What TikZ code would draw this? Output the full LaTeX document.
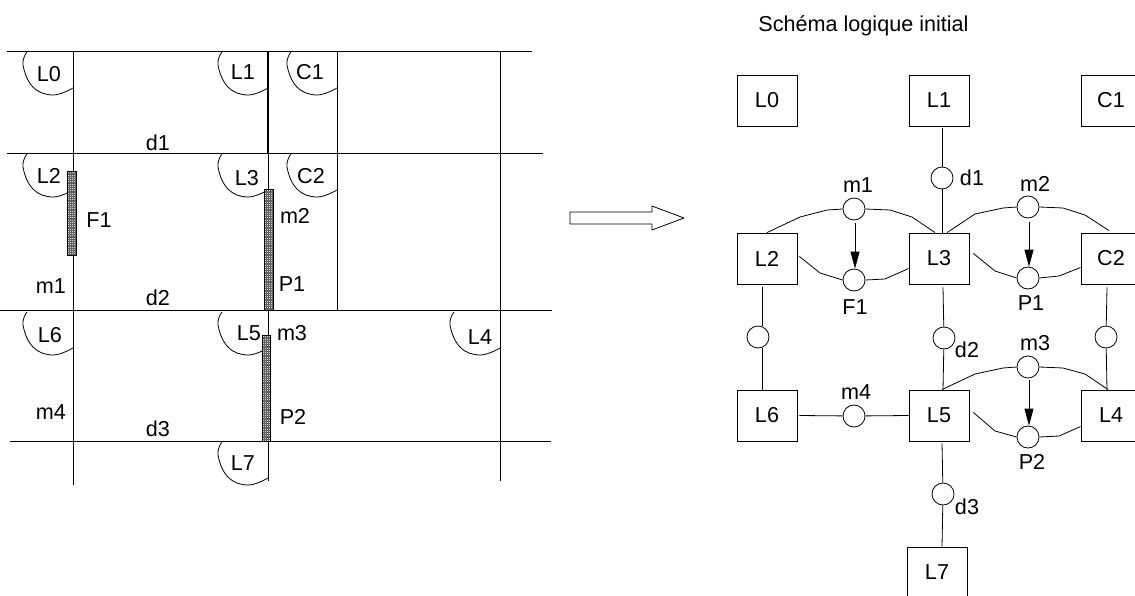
\documentclass[tikz,border=0pt]{standalone}
\usepackage{fontspec}
\setmainfont{Liberation Sans}
\usetikzlibrary{calc,arrows.meta}
\tikzset{
  wire/.style={line width=0.8pt,black,line join=round},
  lbl/.style={inner sep=0pt,font=\fontsize{21.6}{26}\selectfont,anchor=center},
  room/.style={draw,line width=0.85pt,fill=white,minimum width=60pt,minimum height=51pt,inner sep=0pt,font=\fontsize{21.6}{26}\selectfont},
  place/.style={draw,line width=0.8pt,circle,minimum size=22pt,inner sep=0pt},
  flow/.style={wire,-{Triangle[length=17pt,width=9pt]}},
  wall/.style={line width=1pt,black}
}
\newcommand{\doorarc}[2]{\draw[wire,shift={(#1,#2)}] plot[smooth,tension=0.7] coordinates {(-46,1)(-50,14)(-40,36)(-20,44)(0,37)};}
\newcommand{\hatchbar}[4]{%
  \fill[gray!35] (#1,#2) rectangle (#3,#4);
  \draw[gray!75!black,line width=0.25pt,xstep=1.8pt,ystep=1.8pt,shift={(#1,#2)}] (0,0) grid (#3-#1,#4-#2);
  \draw[wire] (#1,#2) rectangle (#3,#4);}
\begin{document}
\begin{tikzpicture}[x=1pt,y=-1pt]
\clip (0,0) rectangle (1135,595);
\fill[white] (0,0) rectangle (1135,595);
% plan
\draw[wall] (7,51) -- (532,51);
\draw[wall] (7,153) -- (543,153);
\draw[wall] (0,310) -- (552,310);
\draw[wall] (10,441) -- (551,441);
\draw[wall] (73,51) -- (73,485);
\draw[line width=1.3pt] (268,51) -- (268,153);
\draw[wall] (268,153) -- (268,481);
\draw[wall] (337,51) -- (337,310);
\draw[wall] (500,51) -- (500,481);
\doorarc{73}{51}
\doorarc{268}{51}
\doorarc{337}{51}
\doorarc{73}{153}
\doorarc{268}{153}
\doorarc{337}{153}
\doorarc{73}{311}
\doorarc{268}{311}
\doorarc{500}{311}
\doorarc{268}{441}
\hatchbar{67.5}{171}{76.5}{255}
\hatchbar{264.5}{189}{273.5}{310}
\hatchbar{262.5}{335}{270.5}{441}
\node[lbl] (pL0) at (49,74) {L0};
\node[lbl] (pL1) at (243,72) {L1};
\node[lbl] (pC1) at (310,72) {C1};
\node[lbl] (pd1) at (158,143) {d1};
\node[lbl] (pL2) at (49,176) {L2};
\node[lbl] (pL3) at (247,178) {L3};
\node[lbl] (pC2) at (311,176) {C2};
\node[lbl] (pF1) at (99,220) {F1};
\node[lbl] (pm2) at (295,216) {m2};
\node[lbl] (pm1) at (51,286) {m1};
\node[lbl] (pd2) at (158,298) {d2};
\node[lbl] (pP1) at (292,284) {P1};
\node[lbl] (pL6) at (50,335) {L6};
\node[lbl] (pL5) at (249,333) {L5};
\node[lbl] (pm3) at (292,333) {m3};
\node[lbl] (pL4) at (480,337) {L4};
\node[lbl] (pm4) at (51,412) {m4};
\node[lbl] (pd3) at (158,429) {d3};
\node[lbl] (pP2) at (293,417) {P2};
\node[lbl] (pL7) at (243,463) {L7};
% arrow
\draw[wire] (570,212) -- (652,212) -- (652,206) -- (684,218) -- (652,230) -- (652,224) -- (570,224) -- cycle;
% title
\node[lbl] (title) at (863.5,26) {Schéma logique initial};
% rooms
\node[room] (L0) at (767,100.5) {L0};
\node[room] (L1) at (939,100.5) {L1};
\node[room] (C1) at (1111,100.5) {C1};
\node[room] (L2) at (767,258.5) {L2};
\node[room] (L3) at (939,258.5) {L3};
\node[room] (C2) at (1111,258.5) {C2};
\node[room] (L6) at (767,415.5) {L6};
\node[room] (L5) at (939,415.5) {L5};
\node[room] (L4) at (1111,415.5) {L4};
\node[room] (L7) at (937,572.5) {L7};
% places
\node[place] (pd1c) at (942,178) {};
\node[place] (pm1c) at (854,209) {};
\node[place] (pF1c) at (854,280) {};
\node[place] (pm2c) at (1028,207) {};
\node[place] (pP1c) at (1028,278) {};
\node[place] (pa) at (758,337) {};
\node[place] (pd2c) at (944,338) {};
\node[place] (pb) at (1106,337) {};
\node[place] (pm3c) at (1028,367) {};
\node[place] (pP2c) at (1028,437) {};
\node[place] (pm4c) at (854,416) {};
\node[place] (pd3c) at (943,494) {};
% place labels
\node[lbl] (tm1) at (858,185) {m1};
\node[lbl] (td1) at (972,178) {d1};
\node[lbl] (tm2) at (1035,184) {m2};
\node[lbl] (tF1) at (855,307) {F1};
\node[lbl] (tP1) at (1031,303) {P1};
\node[lbl] (td2) at (967,350) {d2};
\node[lbl] (tm3) at (1035,343) {m3};
\node[lbl] (tm4) at (856,392) {m4};
\node[lbl] (tP2) at (1032,462) {P2};
\node[lbl] (td3) at (967,507) {d3};
% vertical and horizontal links
\draw[wire] ($(L1.south)+(3,2)$) -- (pd1c);
\draw[wire] (pd1c) -- ($(L3.north)+(3,0)$);
\draw[wire] ($(L2.south)+(-5,3)$) -- ($(pa.north)+(4,0)$);
\draw[wire] ($(pa.south)+(4,0)$) -- ($(L6.north)+(-5,0)$);
\draw[wire] ($(L3.south)+(4,3)$) -- (pd2c);
\draw[wire] (pd2c) -- ($(L5.north)+(4,0)$);
\draw[wire] ($(C2.south)+(-4,3)$) -- (pb);
\draw[wire] (pb) -- ($(L4.north)+(-4,0)$);
\draw[wire] ($(L6.east)+(2,0)$) -- (pm4c);
\draw[wire] (pm4c) -- (L5.west);
\draw[wire] ($(L5.south)+(3,2)$) -- (pd3c);
\draw[wire] (pd3c) -- ($(L7.north)+(5,0)$);
% m1 / F1
\draw[wire] (L2.north) -- (800,217) -- (827,210) -- (pm1c.west);
\draw[wire] (pm1c.east) -- (890,210) -- (912,217) -- ($(L3.north)+(-4,0)$);
\draw[wire] ($(L2.east)+(2,-2)$) -- (820,273) -- (pF1c.west);
\draw[wire] (pF1c.east) -- (885,279) -- ($(L3.west)+(0,10)$);
\draw[flow] ($(pm1c.south)+(1,3)$) -- (pF1c.north -| 855,0);
% m2 / P1
\draw[wire] ($(L3.north)+(8,0)$) -- (975,214) -- (1003,208) -- (pm2c.west);
\draw[wire] (pm2c.east) -- (1063,208) -- (1085,215) -- ($(C2.north)+(-2,-2)$);
\draw[wire] ($(L3.east)+(4,-5)$) -- (995,271) -- (pP1c.west);
\draw[wire] (pP1c.east) -- (1059,276) -- ($(C2.west)+(0,9)$);
\draw[flow] ($(pm2c.south)+(1,4)$) -- (pP1c.north -| 1029,0);
% m3 / P2
\draw[wire] ($(L5.north)+(3,0)$) -- (975,374) -- (1003,368) -- (pm3c.west);
\draw[wire] (pm3c.east) -- (1063,368) -- (1085,374) -- ($(L4.north)+(-3,0)$);
\draw[wire] ($(L5.east)+(4,-3)$) -- (995,431) -- (pP2c.west);
\draw[wire] (pP2c.east) -- (1059,436) -- ($(L4.west)+(0,11)$);
\draw[flow] ($(pm3c.south)+(1,2)$) -- (pP2c.north -| 1029,0);
\end{tikzpicture}
\end{document}
